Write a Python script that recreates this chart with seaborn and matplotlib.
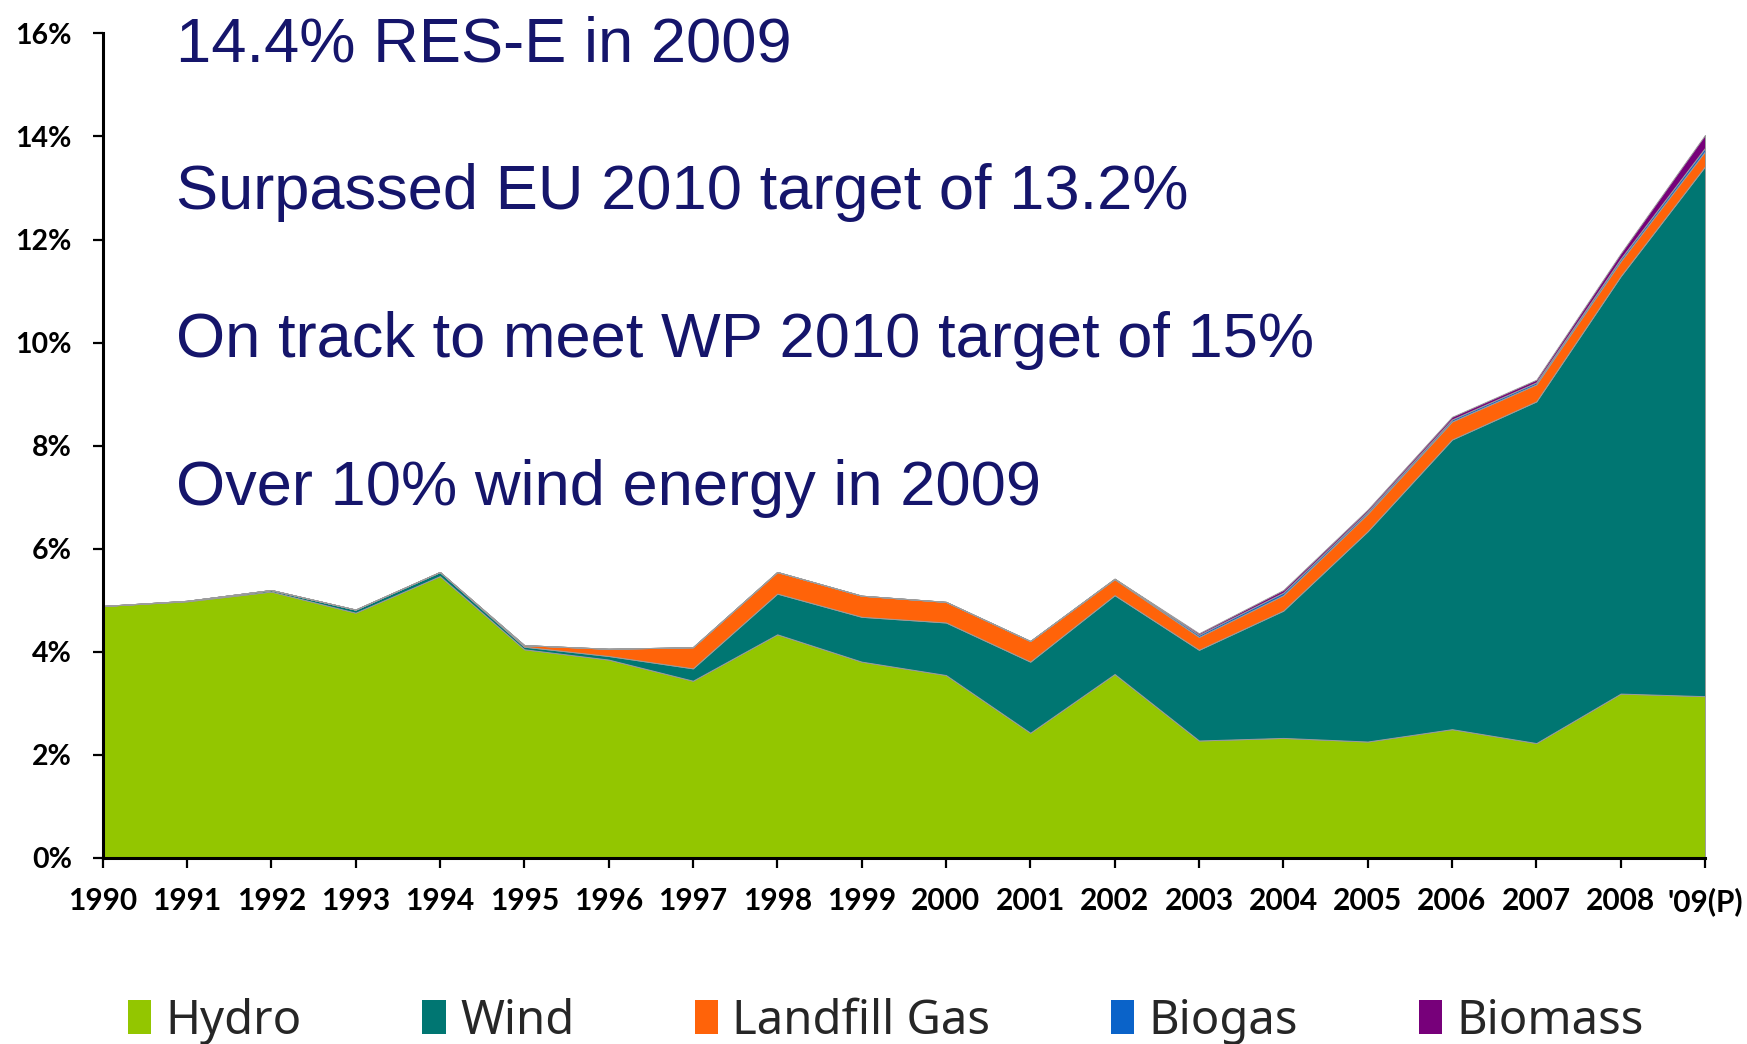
import numpy as np
import pandas as pd
import matplotlib
matplotlib.use("Agg")
import matplotlib.pyplot as plt
from matplotlib.patches import Patch
from matplotlib.ticker import FuncFormatter
import seaborn as sns

# ---- data (% of electricity consumption) ----
years = ["1990", "1991", "1992", "1993", "1994", "1995", "1996", "1997", "1998", "1999",
         "2000", "2001", "2002", "2003", "2004", "2005", "2006", "2007", "2008", "'09(P)"]
hydro = [4.89, 4.98, 5.17, 4.76, 5.47, 4.05, 3.85, 3.44, 4.34, 3.81,
         3.55, 2.43, 3.57, 2.28, 2.33, 2.26, 2.50, 2.23, 3.19, 3.14]
wind = [0.00, 0.01, 0.03, 0.06, 0.08, 0.05, 0.07, 0.24, 0.79, 0.87,
        1.02, 1.38, 1.53, 1.76, 2.47, 4.08, 5.62, 6.63, 8.10, 10.28]
landfill_gas = [0.00, 0.00, 0.00, 0.00, 0.00, 0.03, 0.14, 0.41, 0.42, 0.41,
                0.40, 0.40, 0.31, 0.25, 0.30, 0.34, 0.35, 0.33, 0.29, 0.29]
biogas = [0.00, 0.00, 0.00, 0.00, 0.00, 0.00, 0.00, 0.00, 0.00, 0.00,
          0.00, 0.00, 0.01, 0.04, 0.05, 0.04, 0.04, 0.04, 0.05, 0.07]
biomass = [0.00, 0.00, 0.00, 0.00, 0.00, 0.00, 0.00, 0.00, 0.00, 0.00,
           0.00, 0.00, 0.00, 0.03, 0.05, 0.04, 0.05, 0.05, 0.10, 0.25]
series_names = ["Hydro", "Wind", "Landfill Gas", "Biogas", "Biomass"]
y_ticks = [0, 2, 4, 6, 8, 10, 12, 14, 16]
headlines = ["14.4% RES-E in 2009",
             "Surpassed EU 2010 target of 13.2%",
             "On track to meet WP 2010 target of 15%",
             "Over 10% wind energy in 2009"]

df = pd.DataFrame({"Hydro": hydro, "Wind": wind, "Landfill Gas": landfill_gas,
                   "Biogas": biogas, "Biomass": biomass}, index=years)

sns.set_theme(style="ticks")
plt.rcParams["font.family"] = ["Noto Sans", "DejaVu Sans"]

palette = sns.color_palette(["#93c600", "#007672", "#ff6309", "#0a63c9", "#77007a"])

W, H = 1747, 1044
fig = plt.figure(figsize=(W / 100, H / 100), dpi=100)
fig.patch.set_facecolor("white")

x0, x1 = 102.5, 1705
y0, y1 = 858, 33.4
ax = fig.add_axes([x0 / W, 1 - y0 / H, (x1 - x0) / W, (y0 - y1) / H])
ax.set_facecolor("white")

xpos = np.arange(len(years))
ax.stackplot(xpos, *[df[c].values for c in series_names], colors=palette,
             edgecolor="#9c9c9c", linewidth=0.7)

ax.set_xlim(0, len(years) - 1)
ax.set_ylim(0, 16)
ax.set_xticks(xpos)
ax.set_xticklabels(years)
ax.set_yticks(y_ticks)
ax.yaxis.set_major_formatter(FuncFormatter(lambda v, p: f"{int(round(v))}%"))

sns.despine(ax=ax)
for s in ["left", "bottom"]:
    ax.spines[s].set_linewidth(2.2)
    ax.spines[s].set_color("black")
    ax.spines[s].set_zorder(5)

ax.tick_params(axis="x", direction="out", length=7, width=1.6, color="black", pad=14)
ax.tick_params(axis="y", direction="out", length=7, width=1.6, color="black", pad=15)
plt.setp(ax.get_xticklabels(), fontfamily=["Lato", "DejaVu Sans"], fontweight="bold",
         fontsize=21.5, color="black")
plt.setp(ax.get_yticklabels(), fontfamily=["Lato", "DejaVu Sans"], fontweight="bold",
         fontsize=20.5, color="black")

# headline texts
navy = "#15156b"
baselines = [61, 209.5, 356.5, 504.5]
for txt, b in zip(headlines, baselines):
    fig.text(176 / W, 1 - b / H, txt, fontsize=45.5, color=navy,
             family=["Liberation Sans", "DejaVu Sans"], va="baseline", ha="left")

# legend
handles = [Patch(facecolor=c, edgecolor="none") for c in palette]
fig.legend(handles, series_names, loc="center", bbox_to_anchor=(0.507, 0.022),
           ncol=5, frameon=False, fontsize=34, handlelength=0.5, handleheight=0.7,
           handletextpad=0.3, columnspacing=2.55, borderaxespad=0)

fig.savefig("out.png", dpi=100, facecolor="white")
